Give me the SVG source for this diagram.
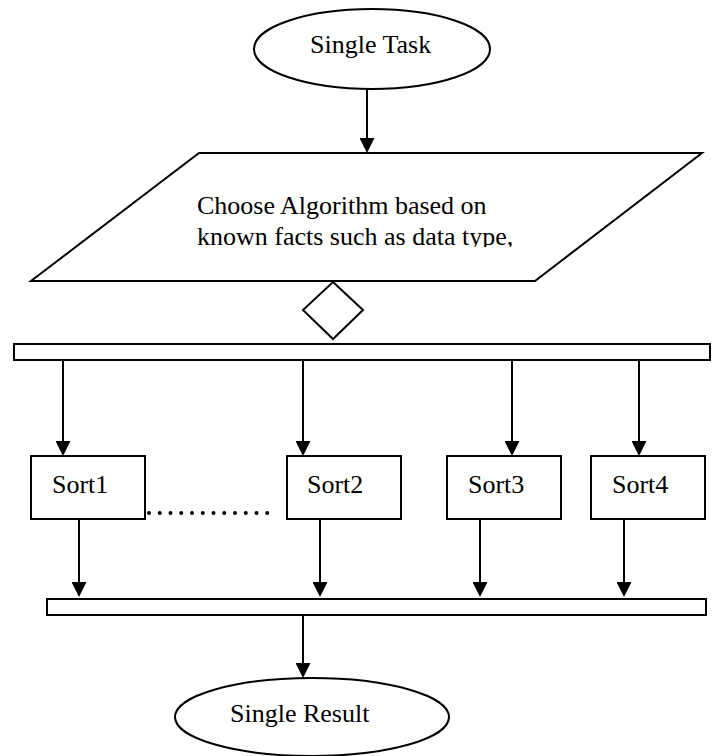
<svg xmlns="http://www.w3.org/2000/svg" width="719" height="756" viewBox="0 0 719 756">
<style>
.s{fill:#fff;stroke:#000;stroke-width:2}
.t{font-family:"Liberation Serif","Times New Roman",serif;font-size:26px;fill:#000}
.c{stroke:#000;stroke-width:2;fill:none}
</style>
<defs>
<marker id="ah" viewBox="0 0 15 15" refX="7" refY="7.5" markerWidth="15" markerHeight="15" markerUnits="userSpaceOnUse" orient="auto">
<path d="M0,0 L15,7.5 L0,15 z" fill="#000"/>
</marker>
<clipPath id="clipP"><rect x="0" y="150" width="719" height="97"/></clipPath>
</defs>
<rect width="719" height="756" fill="#fff"/>
<g id="start">
<ellipse class="s" cx="372" cy="49" rx="118" ry="40"/>
<text class="t" x="310" y="53">Single Task</text>
</g>
<g id="choose">
<polygon class="s" points="199,153 702,153 535,281 31,281"/>
<g clip-path="url(#clipP)">
<text class="t" x="197" y="214">Choose Algorithm based on</text>
<text class="t" x="197" y="245">known facts such as data type,</text>
</g>
</g>
<g id="decision">
<polygon class="s" stroke-width="1.5" points="333,282 363,310 333,339 303,310"/>
</g>
<g id="forkBar">
<rect class="s" x="14" y="344" width="696" height="16"/>
</g>
<g id="sort1">
<rect class="s" x="31" y="456" width="114" height="63"/>
<text class="t" x="52" y="493">Sort1</text>
</g>
<g id="sort2">
<rect class="s" x="287" y="456" width="114" height="63"/>
<text class="t" x="307" y="493">Sort2</text>
</g>
<g id="sort3">
<rect class="s" x="447" y="456" width="114" height="63"/>
<text class="t" x="468" y="493">Sort3</text>
</g>
<g id="sort4">
<rect class="s" x="591" y="456" width="114" height="63"/>
<text class="t" x="612" y="493">Sort4</text>
</g>
<g id="joinBar">
<rect class="s" x="47" y="599" width="659" height="16"/>
</g>
<g id="end">
<ellipse class="s" cx="312" cy="717" rx="137" ry="39"/>
<text class="t" x="230" y="722">Single Result</text>
</g>
<g id="connectors">
<line class="c" x1="367" y1="89" x2="367" y2="145" marker-end="url(#ah)"/>
<line class="c" x1="63" y1="361" x2="63" y2="448" marker-end="url(#ah)"/>
<line class="c" x1="303" y1="361" x2="303" y2="448" marker-end="url(#ah)"/>
<line class="c" x1="512" y1="361" x2="512" y2="448" marker-end="url(#ah)"/>
<line class="c" x1="639" y1="361" x2="639" y2="448" marker-end="url(#ah)"/>
<line class="c" x1="79" y1="520" x2="79" y2="589" marker-end="url(#ah)"/>
<line class="c" x1="320" y1="520" x2="320" y2="589" marker-end="url(#ah)"/>
<line class="c" x1="480" y1="520" x2="480" y2="589" marker-end="url(#ah)"/>
<line class="c" x1="624" y1="520" x2="624" y2="589" marker-end="url(#ah)"/>
<line class="c" x1="303" y1="616" x2="303" y2="670" marker-end="url(#ah)"/>
<line x1="149" y1="513" x2="278" y2="513" stroke="#000" stroke-width="4" stroke-linecap="round" stroke-dasharray="0 10.75"/>
</g>
</svg>
